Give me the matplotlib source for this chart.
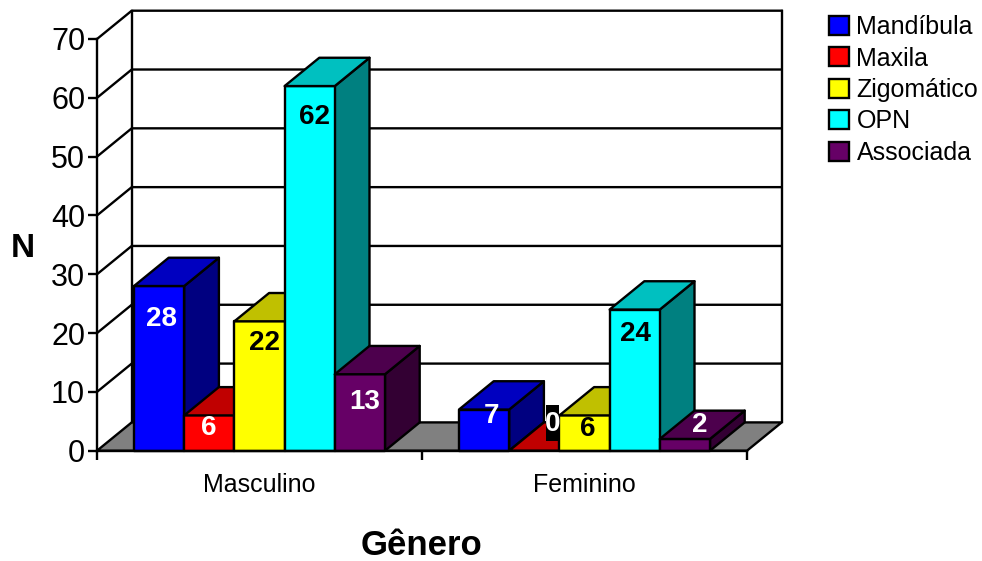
import matplotlib
matplotlib.use("Agg")
import matplotlib.pyplot as plt
from matplotlib.patches import Patch, Polygon, Rectangle

plt.rcParams['font.family'] = ['Liberation Sans', 'DejaVu Sans']

# data
generos = ["Masculino", "Feminino"]
fraturas = ["Mandíbula", "Maxila", "Zigomático", "OPN", "Associada"]
masculino = [28, 6, 22, 62, 13]
feminino = [7, 0, 6, 24, 2]
yticks = [0, 10, 20, 30, 40, 50, 60, 70]

# front, top and side shades of each series
front = ["#0000FF", "#FF0000", "#FFFF00", "#00FFFF", "#660066"]
top = ["#0000C0", "#C00000", "#C0C000", "#00C0C0", "#4D004D"]
side = ["#000080", "#800000", "#808000", "#008080", "#330033"]
label_color = ["white", "white", "black", "black", "white"]

# label offsets from the top centre of each bar, in pixels
nudge_m = [(2, -33), (-1, -13), (5.5, -22), (5, -31), (5, -28)]
nudge_f = [(7, -6), (18, 27), (3.5, -14), (1, -24), (15, 14)]

fig = plt.figure(figsize=(9.82, 5.61), dpi=100)
ax = fig.add_axes([97 / 982, (561 - 450.7) / 561, 650 / 982, 411.7 / 561])
ax.set_xlim(0, 2)
ax.set_ylim(0, 70)

# size of one pixel in data units
px_x = 2 / 650
px_y = 70 / 411.7
depth_x = 34.7 * px_x
depth_y = 28.3 * px_y
bar_w = 50.2 * px_x
lw = 1.7


def face(points, color, z):
    ax.add_patch(Polygon(points, closed=True, facecolor=color, edgecolor="black",
                         linewidth=lw, joinstyle="round", clip_on=False, zorder=z))


# floor and walls
face([(0, 0), (2, 0), (2 + depth_x, depth_y), (depth_x, depth_y)], "#808080", 1)
for v in yticks[1:]:
    ax.plot([0, depth_x, 2 + depth_x], [v, v + depth_y, v + depth_y], color="black",
            linewidth=lw, clip_on=False, zorder=1)
ax.plot([depth_x, depth_x], [depth_y, 70 + depth_y], color="black", linewidth=lw, clip_on=False, zorder=1)
ax.plot([2 + depth_x, 2 + depth_x], [depth_y, 70 + depth_y], color="black", linewidth=lw, clip_on=False, zorder=1)

# bars, left to right so each one covers the side of the previous one
z = 2
for i, valores in enumerate([masculino, feminino]):
    for j, v in enumerate(valores):
        x0 = i + 0.5 + (j - 2.5) * bar_w
        x1 = x0 + bar_w
        if v > 0:
            face([(x1, 0), (x1 + depth_x, depth_y), (x1 + depth_x, v + depth_y), (x1, v)], side[j], z)
            face([(x0, 0), (x1, 0), (x1, v), (x0, v)], front[j], z + 0.1)
        face([(x0, v), (x1, v), (x1 + depth_x, v + depth_y), (x0 + depth_x, v + depth_y)], top[j], z + 0.2)
        z += 1

# data labels go above all the bars
for i, valores in enumerate([masculino, feminino]):
    nudges = [nudge_m, nudge_f][i]
    for j, v in enumerate(valores):
        xc = i + 0.5 + (j - 2) * bar_w
        dx, dy = nudges[j]
        if v == 0:
            cx = xc + dx * px_x
            cy = v + (dy + 1) * px_y
            ax.add_patch(Rectangle((cx - 6.5 * px_x, cy - 18 * px_y), 13 * px_x, 36 * px_y,
                                   facecolor="black", edgecolor="none", clip_on=False, zorder=40))
        ax.annotate(str(v), xy=(xc, v), xytext=(dx * 0.72, dy * 0.72), textcoords="offset points",
                    ha="center", va="center", fontsize=20, fontweight="bold",
                    color=label_color[j], annotation_clip=False, zorder=41)

# axes
for s in ["top", "right"]:
    ax.spines[s].set_visible(False)
for s in ["left", "bottom"]:
    ax.spines[s].set_linewidth(lw)
    ax.spines[s].set_zorder(30)
ax.patch.set_visible(False)

ax.set_yticks(yticks)
ax.set_yticklabels([str(v) for v in yticks], fontsize=22)
ax.tick_params(axis="y", length=6.5, width=lw, pad=2)
ax.set_xticks([0, 1, 2])
ax.set_xticklabels(["", "", ""])
ax.set_xticks([0.5, 1.5], minor=True)
ax.set_xticklabels(generos, minor=True, fontsize=18)
ax.tick_params(axis="x", which="major", length=6.5, width=lw)
ax.tick_params(axis="x", which="minor", length=0, pad=16)

ax.set_xlabel("Gênero", fontsize=25, fontweight="bold", va="center")
ax.xaxis.set_label_coords(0.5, -95 / 411.7)
ax.set_ylabel("N", fontsize=24, fontweight="bold", rotation=0, ha="center", va="center")
ax.yaxis.set_label_coords(-74 / 650, 0.49)

handles = [Patch(facecolor=c, edgecolor="black", linewidth=lw) for c in front]
fig.legend(handles, fraturas, loc="upper left", bbox_to_anchor=(829 / 982, 1 - 15 / 561),
           frameon=False, fontsize=18, borderpad=0, borderaxespad=0, handlelength=0.8,
           handleheight=0.8, handletextpad=0.3, labelspacing=0.3)

fig.savefig("out.png", dpi=100)
